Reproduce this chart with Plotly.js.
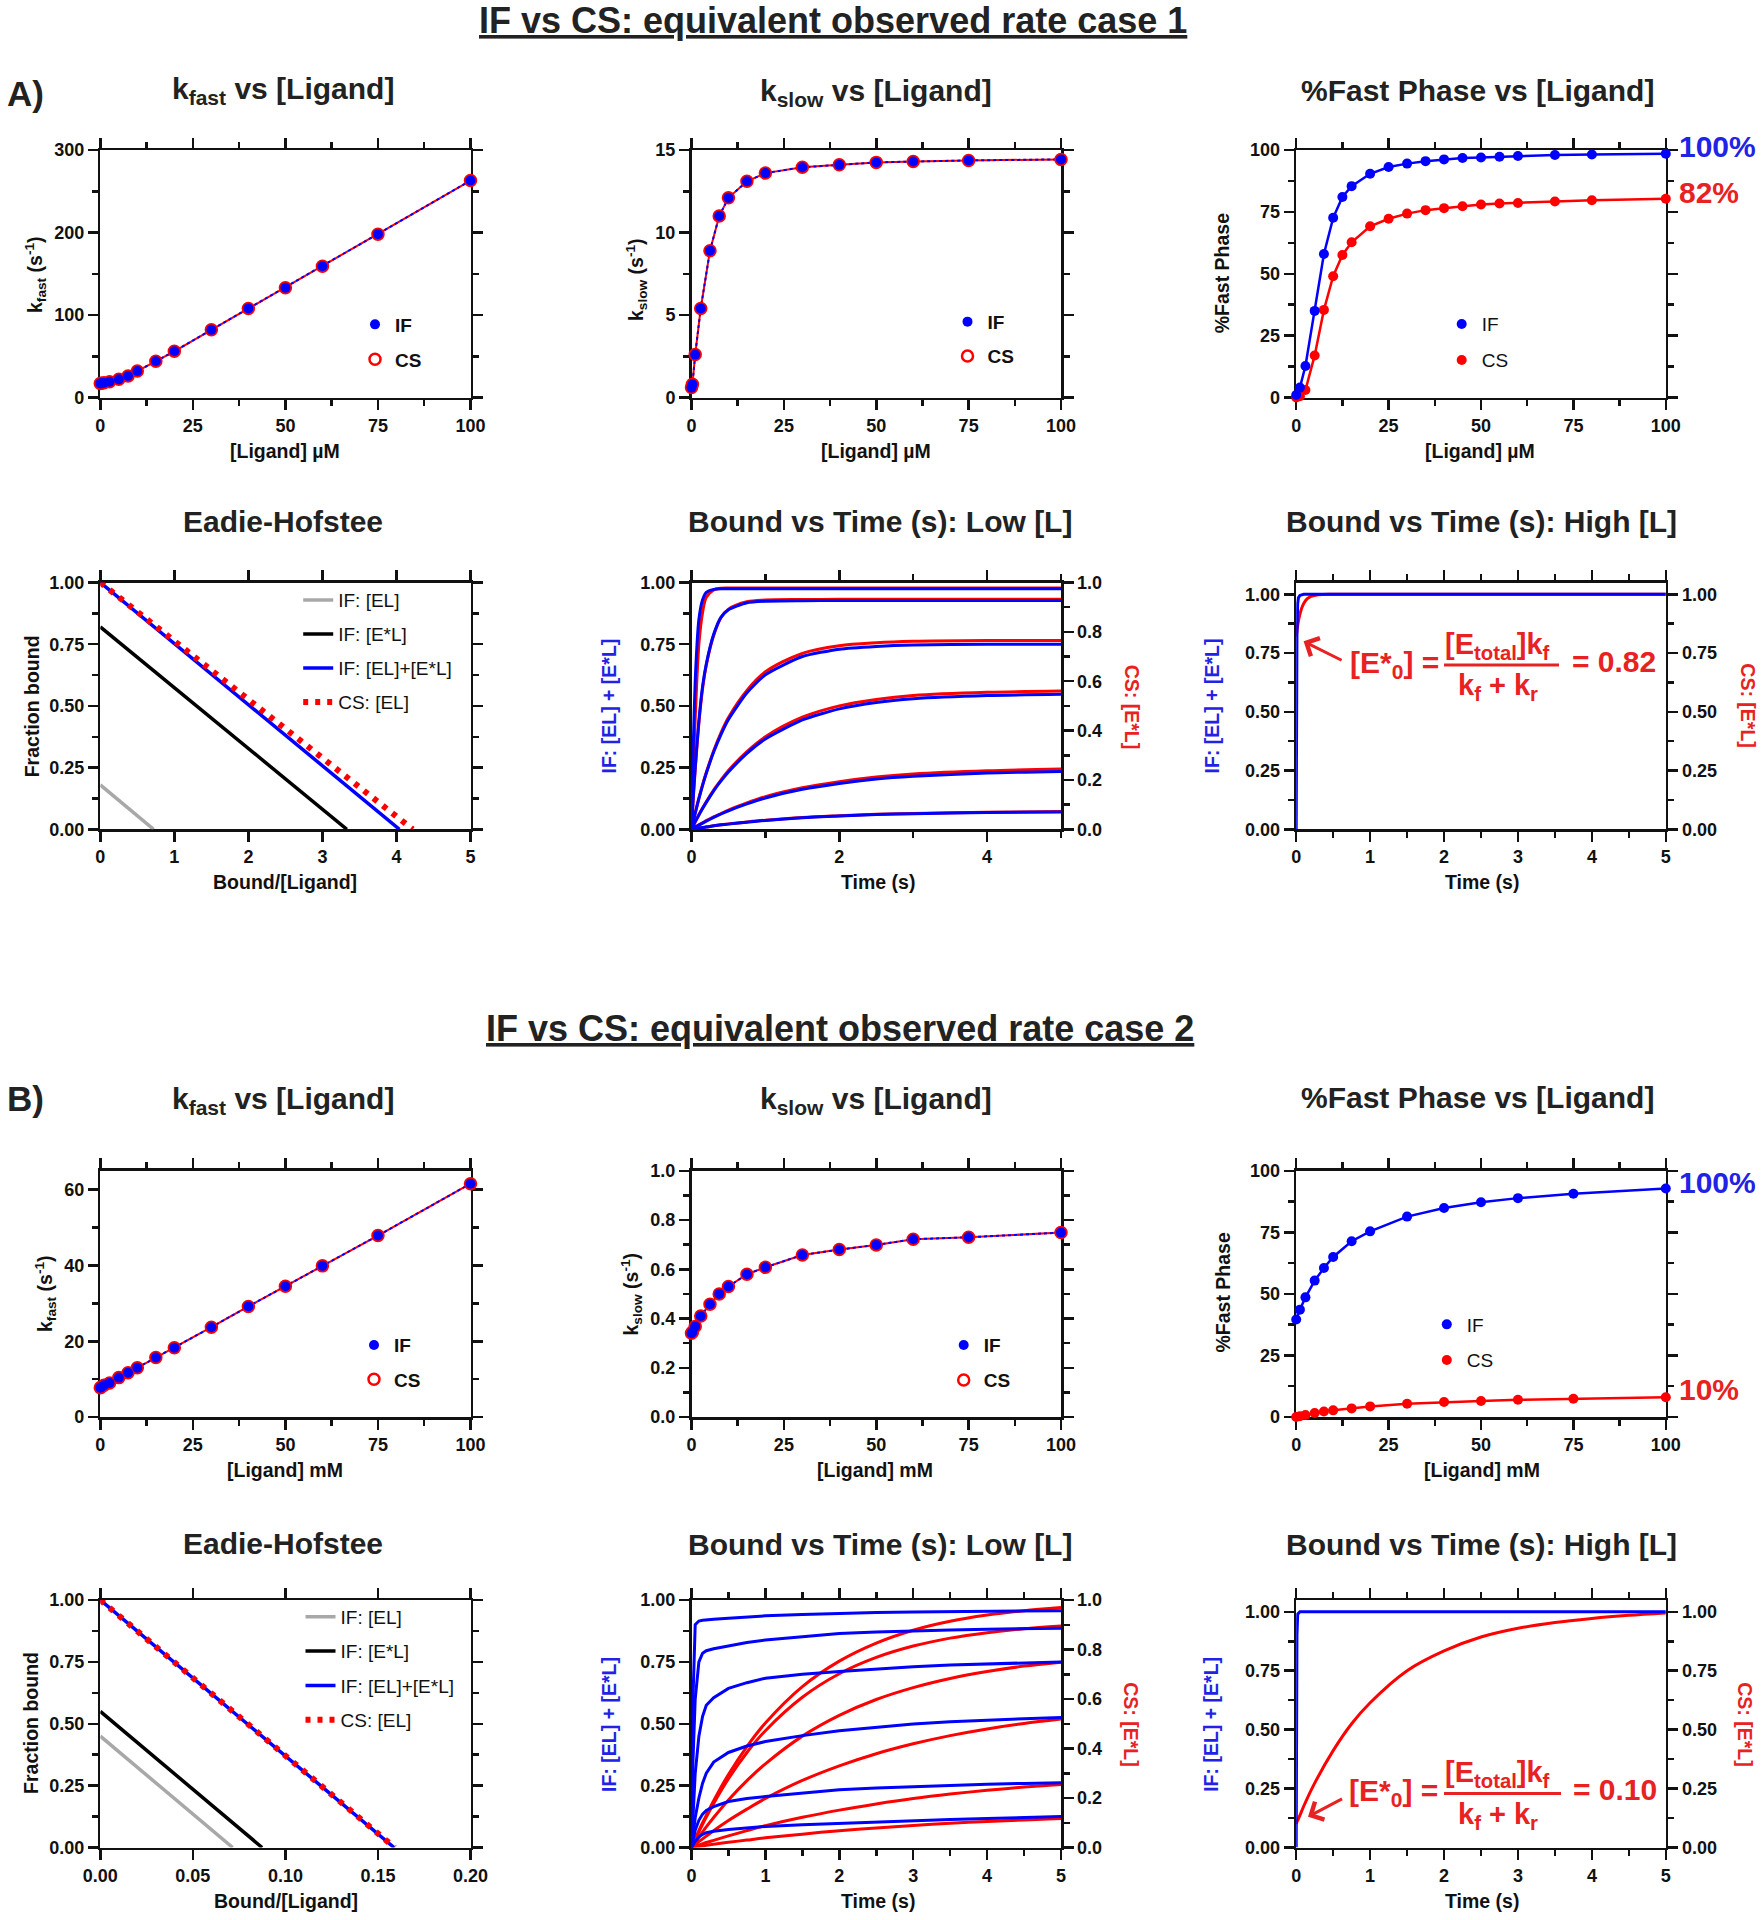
<!DOCTYPE html>
<html>
<head>
<meta charset="utf-8">
<script src="https://cdn.plot.ly/plotly-3.0.1.min.js"></script>
<style>
html, body { margin: 0; padding: 0; background: #ffffff; }
#chart { width: 1763px; height: 1920px; }
</style>
</head>
<body>
<div id="chart"></div>
<script>
// ================= DATA =================
const seriesNames = ['IF', 'CS'];
const ehNames = ['IF: [EL]', 'IF: [E*L]', 'IF: [EL]+[E*L]', 'CS: [EL]'];

// ---- Case 1 (A), ligand in µM ----
const ligandA = [0, 0.25, 1, 2.5, 5, 7.5, 10, 15, 20, 30, 40, 50, 60, 75, 100];
const kfastA_IF = [17, 17.2, 17.8, 19, 22, 26, 32, 44, 56, 82, 108, 133, 159, 198, 263];
const kfastA_CS = [17, 17.2, 17.8, 19, 22, 26, 32, 44, 56, 82, 108, 133, 159, 198, 263];
const kslowA_IF = [0.6, 0.8, 2.6, 5.4, 8.9, 11.0, 12.1, 13.1, 13.6, 13.95, 14.1, 14.25, 14.3, 14.37, 14.43];
const kslowA_CS = [0.6, 0.8, 2.6, 5.4, 8.9, 11.0, 12.1, 13.1, 13.6, 13.95, 14.1, 14.25, 14.3, 14.37, 14.43];
const ligandPctA = [0, 1, 2.5, 5, 7.5, 10, 12.5, 15, 20, 25, 30, 35, 40, 45, 50, 55, 60, 70, 80, 100];
const pctFastA_IF = [1, 4, 12.7, 35, 58, 72.6, 81, 85.4, 90.4, 93.1, 94.5, 95.5, 96.2, 96.8, 97, 97.3, 97.6, 98, 98.2, 98.5];
const pctFastA_CS = [0, 0.5, 3, 17, 35.4, 49, 57.6, 62.7, 69.2, 72.2, 74.3, 75.7, 76.5, 77.3, 78, 78.4, 78.6, 79.2, 79.7, 80.3];
// Eadie-Hofstee end points: [Bound/[Ligand]], [Fraction bound]
const ehA_x = [[0, 0.72], [0, 3.33], [0, 4.04], [0, 4.22]];
const ehA_y = [[0.18, 0], [0.82, 0], [1, 0], [1, 0]];
// Bound vs time, low [L]
const timeLowA = [0, 0.025, 0.05, 0.1, 0.15, 0.2, 0.3, 0.4, 0.5, 0.75, 1, 1.5, 2, 2.5, 3, 4, 5];
const lowA_IF = [
  [0, 0.35, 0.60, 0.85, 0.93, 0.96, 0.972, 0.975, 0.975, 0.975, 0.975, 0.975, 0.975, 0.975, 0.975, 0.975, 0.975],
  [0, 0.14, 0.25, 0.44, 0.58, 0.67, 0.79, 0.86, 0.89, 0.918, 0.924, 0.926, 0.927, 0.927, 0.927, 0.927, 0.927],
  [0, 0.033, 0.065, 0.124, 0.178, 0.227, 0.313, 0.385, 0.445, 0.553, 0.626, 0.700, 0.730, 0.741, 0.747, 0.750, 0.750],
  [0, 0.015, 0.030, 0.058, 0.084, 0.109, 0.156, 0.196, 0.232, 0.308, 0.366, 0.443, 0.488, 0.514, 0.529, 0.542, 0.547],
  [0, 0.004, 0.009, 0.017, 0.025, 0.033, 0.048, 0.062, 0.075, 0.103, 0.127, 0.162, 0.186, 0.204, 0.215, 0.228, 0.234],
  [0, 0.001, 0.003, 0.005, 0.007, 0.009, 0.014, 0.018, 0.021, 0.029, 0.036, 0.047, 0.054, 0.060, 0.063, 0.068, 0.070]
];
const lowA_CS = [
  [0, 0.25, 0.45, 0.75, 0.88, 0.94, 0.97, 0.977, 0.978, 0.978, 0.978, 0.978, 0.978, 0.978, 0.978, 0.978, 0.978],
  [0, 0.13, 0.24, 0.43, 0.57, 0.665, 0.785, 0.858, 0.892, 0.922, 0.929, 0.931, 0.932, 0.932, 0.932, 0.932, 0.932],
  [0, 0.034, 0.066, 0.126, 0.181, 0.230, 0.318, 0.392, 0.453, 0.563, 0.638, 0.713, 0.744, 0.756, 0.762, 0.765, 0.765],
  [0, 0.015, 0.030, 0.059, 0.086, 0.112, 0.159, 0.200, 0.238, 0.315, 0.375, 0.454, 0.500, 0.526, 0.542, 0.555, 0.560],
  [0, 0.005, 0.009, 0.018, 0.026, 0.035, 0.050, 0.064, 0.078, 0.107, 0.132, 0.168, 0.193, 0.212, 0.224, 0.237, 0.244],
  [0, 0.001, 0.003, 0.005, 0.007, 0.010, 0.014, 0.018, 0.022, 0.030, 0.037, 0.048, 0.055, 0.061, 0.064, 0.069, 0.072]
];
// Bound vs time, high [L]
const timeHighA = [0, 0.005, 0.01, 0.02, 0.03, 0.05, 0.075, 0.1, 0.15, 0.2, 0.3, 0.5, 1, 2, 5];
const highA_IF = [0, 0.55, 0.82, 0.96, 0.985, 0.995, 0.998, 1, 1, 1, 1, 1, 1, 1, 1];
const highA_CS = [0.82, 0.833, 0.845, 0.867, 0.885, 0.915, 0.942, 0.96, 0.981, 0.991, 0.998, 1, 1, 1, 1];

// ---- Case 2 (B), ligand in mM ----
const ligandB = [0, 0.25, 1, 2.5, 5, 7.5, 10, 15, 20, 30, 40, 50, 60, 75, 100];
const kfastB_IF = [7.7, 7.9, 8.4, 9.0, 10.4, 11.7, 13.0, 15.7, 18.3, 23.7, 29.2, 34.5, 39.9, 47.9, 61.6];
const kfastB_CS = [7.7, 7.9, 8.4, 9.0, 10.4, 11.7, 13.0, 15.7, 18.3, 23.7, 29.2, 34.5, 39.9, 47.9, 61.6];
const kslowB_IF = [0.34, 0.345, 0.368, 0.41, 0.458, 0.50, 0.53, 0.58, 0.608, 0.658, 0.68, 0.699, 0.722, 0.73, 0.749];
const kslowB_CS = [0.34, 0.345, 0.368, 0.41, 0.458, 0.50, 0.53, 0.58, 0.608, 0.658, 0.68, 0.699, 0.722, 0.73, 0.749];
const ligandPctB = [0, 1, 2.5, 5, 7.5, 10, 15, 20, 30, 40, 50, 60, 75, 100];
const pctFastB_IF = [39.6, 43.6, 48.6, 55.4, 60.5, 65, 71.4, 75.4, 81.4, 84.9, 87.2, 88.9, 90.7, 92.8];
const pctFastB_CS = [0, 0.3, 0.8, 1.6, 2.2, 2.7, 3.5, 4.3, 5.4, 6.1, 6.5, 7.0, 7.4, 8.0];
const ehB_x = [[0, 0.0715], [0, 0.0874], [0, 0.1587], [0, 0.159]];
const ehB_y = [[0.45, 0], [0.55, 0], [1, 0], [1, 0]];
const timeLowB = [0, 0.02, 0.05, 0.1, 0.15, 0.2, 0.3, 0.5, 0.75, 1, 1.5, 2, 2.5, 3, 3.5, 4, 4.5, 5];
const lowB_IF = [
  [0, 0.60, 0.90, 0.915, 0.918, 0.920, 0.922, 0.926, 0.931, 0.936, 0.941, 0.946, 0.949, 0.952, 0.954, 0.955, 0.956, 0.957],
  [0, 0.35, 0.60, 0.75, 0.785, 0.795, 0.803, 0.815, 0.828, 0.838, 0.853, 0.865, 0.871, 0.876, 0.879, 0.882, 0.884, 0.886],
  [0, 0.15, 0.30, 0.45, 0.53, 0.575, 0.605, 0.643, 0.666, 0.684, 0.700, 0.711, 0.722, 0.730, 0.737, 0.742, 0.746, 0.750],
  [0, 0.05, 0.12, 0.20, 0.26, 0.30, 0.345, 0.384, 0.410, 0.428, 0.452, 0.472, 0.487, 0.499, 0.508, 0.515, 0.520, 0.525],
  [0, 0.03, 0.07, 0.11, 0.135, 0.15, 0.165, 0.186, 0.198, 0.206, 0.220, 0.233, 0.240, 0.246, 0.251, 0.256, 0.259, 0.262],
  [0, 0.010, 0.025, 0.042, 0.053, 0.060, 0.066, 0.073, 0.080, 0.085, 0.092, 0.098, 0.104, 0.109, 0.113, 0.117, 0.121, 0.125]
];
const lowB_CS = [
  [0, 0.014, 0.034, 0.068, 0.100, 0.130, 0.189, 0.295, 0.408, 0.503, 0.650, 0.753, 0.826, 0.878, 0.914, 0.939, 0.957, 0.970],
  [0, 0.013, 0.033, 0.064, 0.094, 0.123, 0.178, 0.278, 0.384, 0.472, 0.607, 0.702, 0.768, 0.814, 0.846, 0.868, 0.884, 0.895],
  [0, 0.009, 0.022, 0.043, 0.063, 0.083, 0.121, 0.192, 0.270, 0.338, 0.450, 0.534, 0.598, 0.646, 0.683, 0.711, 0.733, 0.749],
  [0, 0.005, 0.012, 0.024, 0.035, 0.046, 0.068, 0.109, 0.155, 0.198, 0.271, 0.330, 0.379, 0.419, 0.452, 0.479, 0.501, 0.519],
  [0, 0.002, 0.005, 0.010, 0.015, 0.020, 0.029, 0.047, 0.068, 0.088, 0.122, 0.151, 0.176, 0.198, 0.216, 0.231, 0.244, 0.255],
  [0, 0.001, 0.002, 0.004, 0.007, 0.009, 0.013, 0.021, 0.030, 0.039, 0.054, 0.068, 0.079, 0.089, 0.098, 0.105, 0.111, 0.117]
];
const timeHighB = [0, 0.005, 0.01, 0.02, 0.05, 0.1, 0.25, 0.5, 0.75, 1, 1.5, 2, 2.5, 3, 3.5, 4, 4.5, 5];
const highB_IF = [0, 0.6, 0.9, 0.99, 1, 1, 1, 1, 1, 1, 1, 1, 1, 1, 1, 1, 1, 1];
const highB_CS = [0.10, 0.104, 0.108, 0.115, 0.136, 0.174, 0.273, 0.411, 0.525, 0.614, 0.750, 0.834, 0.893, 0.930, 0.955, 0.972, 0.985, 0.995];

// ================= STYLE / LAYOUT =================
const W = 1763, H = 1920;
const F = 'Liberation Sans, Arial, Helvetica, sans-serif';
const BLUE = '#0000ff', RED = '#ff0000', GRAY = '#a8a8a8', BLACK = '#000000';
const TBLUE = '#2222e6', TRED = '#e82222', DARK = '#222222', AXC = '#111111';
const px = v => v / W, py = v => 1 - v / H;
const domX = c => [c[0] / W, c[1] / W];
const domY = r => [1 - r[1] / H, 1 - r[0] / H];
const COLS = [[100.3, 470.5], [691.5, 1061], [1296.2, 1665.8]];
const ROWS = [[150, 397.5], [582.5, 829.3], [1170.8, 1417], [1600, 1847.5]];
const sx = i => (i > 1 ? String(i) : '');

const traces = [];
function ref(i, yid) { return { xaxis: 'x' + sx(i), yaxis: yid || ('y' + sx(i)) }; }

function ratePanel(i, xs, yIF, yCS, leg, grp) {
  traces.push(Object.assign({ type: 'scatter', x: xs, y: yCS, mode: 'lines', line: { color: RED, width: 2 }, showlegend: false, hoverinfo: 'skip' }, ref(i)));
  traces.push(Object.assign({ type: 'scatter', x: xs, y: yIF, mode: 'lines', line: { color: BLUE, width: 2, dash: 'dot' }, showlegend: false, hoverinfo: 'skip' }, ref(i)));
  traces.push(Object.assign({ type: 'scatter', x: xs, y: yCS, mode: 'markers', name: seriesNames[1], legend: leg, legendgroup: grp + 'cs', legendrank: 2,
    marker: { symbol: 'circle-open', size: 11, color: RED, line: { color: RED, width: 2.5 } }, cliponaxis: false }, ref(i)));
  traces.push(Object.assign({ type: 'scatter', x: xs, y: yIF, mode: 'markers', name: seriesNames[0], legend: leg, legendgroup: grp + 'if', legendrank: 1,
    marker: { symbol: 'circle', size: 10, color: BLUE }, cliponaxis: false }, ref(i)));
}
function pctPanel(i, xs, yIF, yCS, leg, grp) {
  traces.push(Object.assign({ type: 'scatter', x: xs, y: yCS, mode: 'lines', line: { color: RED, width: 2.5 }, showlegend: false, hoverinfo: 'skip', cliponaxis: false }, ref(i)));
  traces.push(Object.assign({ type: 'scatter', x: xs, y: yCS, mode: 'markers', name: seriesNames[1], legend: leg, legendgroup: grp + 'cs', legendrank: 2,
    marker: { symbol: 'circle', size: 10, color: RED }, cliponaxis: false }, ref(i)));
  traces.push(Object.assign({ type: 'scatter', x: xs, y: yIF, mode: 'lines', line: { color: BLUE, width: 2.5 }, showlegend: false, hoverinfo: 'skip', cliponaxis: false }, ref(i)));
  traces.push(Object.assign({ type: 'scatter', x: xs, y: yIF, mode: 'markers', name: seriesNames[0], legend: leg, legendgroup: grp + 'if', legendrank: 1,
    marker: { symbol: 'circle', size: 10, color: BLUE }, cliponaxis: false }, ref(i)));
}
function ehPanel(i, xs, ys, leg, grp) {
  const styles = [
    { color: GRAY, width: 3.5 }, { color: BLACK, width: 3.5 }, { color: BLUE, width: 3.5 }, { color: RED, width: 6, dash: '5px,7px' }
  ];
  xs.forEach((x, k) => traces.push(Object.assign({ type: 'scatter', x: x, y: ys[k], mode: 'lines', name: ehNames[k], legend: leg,
    legendgroup: grp + k, legendrank: k + 1, line: styles[k], cliponaxis: false }, ref(i))));
}
function timePanel(i, leftId, t, ifCurves, csCurves, ifShape, csShape) {
  csCurves.forEach(c => traces.push(Object.assign({ type: 'scatter', x: t, y: c, mode: 'lines', showlegend: false, hoverinfo: 'skip',
    line: { color: RED, width: 3, shape: csShape, smoothing: 0.9 } }, ref(i))));
  ifCurves.forEach(c => traces.push(Object.assign({ type: 'scatter', x: t, y: c, mode: 'lines', showlegend: false, hoverinfo: 'skip',
    line: { color: BLUE, width: 3, shape: ifShape, smoothing: 0.6 } }, ref(i, leftId))));
}

ratePanel(1, ligandA, kfastA_IF, kfastA_CS, 'legend', 'a1');
ratePanel(2, ligandA, kslowA_IF, kslowA_CS, 'legend2', 'a2');
pctPanel(3, ligandPctA, pctFastA_IF, pctFastA_CS, 'legend3', 'a3');
ehPanel(4, ehA_x, ehA_y, 'legend4', 'a4');
timePanel(5, 'y13', timeLowA, lowA_IF, lowA_CS, 'spline', 'spline');
timePanel(6, 'y14', timeHighA, [highA_IF], [highA_CS], 'linear', 'spline');
ratePanel(7, ligandB, kfastB_IF, kfastB_CS, 'legend5', 'b1');
ratePanel(8, ligandB, kslowB_IF, kslowB_CS, 'legend6', 'b2');
pctPanel(9, ligandPctB, pctFastB_IF, pctFastB_CS, 'legend7', 'b3');
ehPanel(10, ehB_x, ehB_y, 'legend8', 'b4');
timePanel(11, 'y15', timeLowB, lowB_IF, lowB_CS, 'linear', 'spline');
timePanel(12, 'y16', timeHighB, [highB_IF], [highB_CS], 'linear', 'spline');

// axis specs per panel
const panelSpec = [
  { x: [0, 100], xd: 25, xm: 12.5, y: [0, 300], yd: 100, ym: 50 },
  { x: [0, 100], xd: 25, xm: 12.5, y: [0, 15], yd: 5, ym: 2.5 },
  { x: [0, 100], xd: 25, xm: 12.5, y: [0, 100], yd: 25, ym: 12.5 },
  { x: [0, 5], xd: 1, xm: null, y: [0, 1], yd: 0.25, ym: 0.125, yf: '.2f' },
  { x: [0, 5], xd: 2, xm: 1, y: [0, 1], yd: 0.25, ym: 0.125, yf: '.2f', left: 13, right: { r: [0, 1], d: 0.2, m: 0.1, f: '.1f' } },
  { x: [0, 5], xd: 1, xm: 0.5, y: [0, 1.05], yd: 0.25, ym: 0.125, yf: '.2f', left: 14, right: { r: [0, 1.05], d: 0.25, m: 0.125, f: '.2f' } },
  { x: [0, 100], xd: 25, xm: 12.5, y: [0, 65], yd: 20, ym: 10 },
  { x: [0, 100], xd: 25, xm: 12.5, y: [0, 1], yd: 0.2, ym: 0.1, yf: '.1f' },
  { x: [0, 100], xd: 25, xm: 12.5, y: [0, 100], yd: 25, ym: 12.5 },
  { x: [0, 0.2], xd: 0.05, xm: null, xf: '.2f', y: [0, 1], yd: 0.25, ym: 0.125, yf: '.2f' },
  { x: [0, 5], xd: 1, xm: 0.5, y: [0, 1], yd: 0.25, ym: 0.125, yf: '.2f', left: 15, right: { r: [0, 1], d: 0.2, m: 0.1, f: '.1f' } },
  { x: [0, 5], xd: 1, xm: 0.5, y: [0, 1.05], yd: 0.25, ym: 0.125, yf: '.2f', left: 16, right: { r: [0, 1.05], d: 0.25, m: 0.125, f: '.2f' } }
];
function axis(o) {
  const a = {
    range: o.range, tickmode: 'linear', tick0: 0, dtick: o.dtick,
    showline: true, linecolor: AXC, linewidth: 2.5, mirror: o.mirror,
    ticks: 'outside', ticklen: 10, tickwidth: 2.5, tickcolor: AXC,
    showgrid: false, zeroline: false, fixedrange: true, layer: 'below traces',
    tickfont: { family: F, size: 18, color: AXC, weight: 'bold' },
    anchor: o.anchor
  };
  if (o.fmt) a.tickformat = o.fmt;
  if (o.domain) a.domain = o.domain;
  if (o.side) a.side = o.side;
  if (o.overlaying) a.overlaying = o.overlaying;
  if (o.minorD) a.minor = { dtick: o.minorD, tick0: 0, ticks: 'outside', ticklen: 6, tickwidth: 2.5, tickcolor: AXC, showgrid: false };
  return a;
}
const layout = {
  width: W, height: H, margin: { l: 0, r: 0, t: 0, b: 0 },
  paper_bgcolor: '#ffffff', plot_bgcolor: '#ffffff',
  showlegend: true, hovermode: false, font: { family: F, color: AXC }
};
panelSpec.forEach((p, k) => {
  const i = k + 1, s = sx(i);
  const col = COLS[k % 3], row = ROWS[Math.floor(k / 3)];
  layout['xaxis' + s] = axis({ domain: domX(col), range: p.x, dtick: p.xd, minorD: p.xm, fmt: p.xf, anchor: 'y' + s, mirror: 'ticks' });
  if (p.right) {
    layout['yaxis' + s] = axis({ domain: domY(row), range: p.right.r, dtick: p.right.d, minorD: p.right.m, fmt: p.right.f, anchor: 'x' + s, side: 'right', mirror: false });
    layout['yaxis' + p.left] = axis({ range: p.y, dtick: p.yd, minorD: p.ym, fmt: p.yf, anchor: 'x' + s, side: 'left', overlaying: 'y' + s, mirror: false });
  } else {
    layout['yaxis' + s] = axis({ domain: domY(row), range: p.y, dtick: p.yd, minorD: p.ym, fmt: p.yf, anchor: 'x' + s, mirror: 'ticks' });
  }
});

// legends
function leg(left, top, bold, gap) {
  return { x: px(left), y: py(top), xanchor: 'left', yanchor: 'top', bgcolor: 'rgba(0,0,0,0)', borderwidth: 0,
    font: { family: F, size: 19, color: AXC, weight: bold ? 'bold' : 'normal' }, traceorder: 'grouped', tracegroupgap: gap,
    itemwidth: 30, itemclick: false, itemdoubleclick: false };
}
layout.legend = leg(355, 305.5, true, 7.3);
layout.legend2 = leg(947.5, 302.8, true, 6.6);
layout.legend3 = leg(1441.7, 305.2, false, 8.3);
layout.legend4 = leg(298.2, 581.2, false, 6.3);
layout.legend5 = leg(354, 1326.2, true, 6.6);
layout.legend6 = leg(943.7, 1326.2, true, 7.3);
layout.legend7 = leg(1426.8, 1305.5, false, 8.0);
layout.legend8 = leg(300.5, 1597.8, false, 6.7);

// text annotations
const A = [];
function txt(text, x, y, size, color, extra) {
  A.push(Object.assign({ text: text, xref: 'paper', yref: 'paper', x: px(x), y: py(y), showarrow: false,
    xanchor: 'center', yanchor: 'middle', font: { family: F, size: size, color: color || AXC, weight: 'bold' } }, extra || {}));
}
// main titles and panel labels
txt('<u>IF vs CS: equivalent observed rate case 1</u>', 833, 20.4, 36, DARK);
txt('<u>IF vs CS: equivalent observed rate case 2</u>', 840, 1028, 36, DARK);
txt('A)', 5, 94, 35, DARK, { xanchor: 'left' });
txt('B)', 5, 1098, 35, DARK, { xanchor: 'left' });
// subplot titles
const subTitles = ['k<sub>fast</sub> vs [Ligand]', 'k<sub>slow</sub> vs [Ligand]', '%Fast Phase vs [Ligand]',
  'Eadie-Hofstee', 'Bound vs Time (s): Low [L]', 'Bound vs Time (s): High [L]'];
const subTitleX = [283, 875.6, 1477, 283, 879.6, 1481];
const subTitleY = [[91, 92, 90, 521, 521, 521.5], [1100.5, 1100.5, 1097, 1543, 1544, 1544]];
[0, 1].forEach(c => subTitles.forEach((t, k) => txt(t, subTitleX[k], subTitleY[c][k], 30, DARK)));
// x axis titles
const xTitlesA = ['[Ligand] µM', '[Ligand] µM', '[Ligand] µM', 'Bound/[Ligand]', 'Time (s)', 'Time (s)'];
const xTitlesB = ['[Ligand] mM', '[Ligand] mM', '[Ligand] mM', 'Bound/[Ligand]', 'Time (s)', 'Time (s)'];
const xTitleX = [[285, 876, 1480, 285, 877.7, 1482], [285, 874.5, 1482, 286, 877.7, 1482]];
const xTitleY = [451, 451, 451, 881.5, 881.5, 881.5, 1469.5, 1469.5, 1469.5, 1900.5, 1900.5, 1900.5];
xTitlesA.forEach((t, k) => txt(t, xTitleX[0][k], xTitleY[k], 19.5, AXC));
xTitlesB.forEach((t, k) => txt(t, xTitleX[1][k], xTitleY[k + 6], 19.5, AXC));
// y axis titles
const yT = { textangle: -90 };
txt('k<sub>fast</sub> (s<sup>-1</sup>)', 36, 275, 19.5, AXC, yT);
txt('k<sub>slow</sub> (s<sup>-1</sup>)', 636, 280, 19.5, AXC, yT);
txt('%Fast Phase', 1222, 273.3, 19.5, AXC, yT);
txt('Fraction bound', 31.6, 706.7, 19.5, AXC, yT);
txt('IF: [EL] + [E*L]', 608.7, 705.8, 19.5, TBLUE, yT);
txt('IF: [EL] + [E*L]', 1211.6, 705.8, 19.5, TBLUE, yT);
txt('CS: [E*L]', 1132, 706.7, 19.5, TRED, { textangle: 90 });
txt('CS: [E*L]', 1748.5, 705.8, 19.5, TRED, { textangle: 90 });
txt('k<sub>fast</sub> (s<sup>-1</sup>)', 45, 1294, 19.5, AXC, yT);
txt('k<sub>slow</sub> (s<sup>-1</sup>)', 630.5, 1294, 19.5, AXC, yT);
txt('%Fast Phase', 1222, 1292.5, 19.5, AXC, yT);
txt('Fraction bound', 31.6, 1723.3, 19.5, AXC, yT);
txt('IF: [EL] + [E*L]', 608.7, 1724.2, 19.5, TBLUE, yT);
txt('IF: [EL] + [E*L]', 1211.6, 1724.2, 19.5, TBLUE, yT);
txt('CS: [E*L]', 1131, 1724.2, 19.5, TRED, { textangle: 90 });
txt('CS: [E*L]', 1745, 1724.2, 19.5, TRED, { textangle: 90 });
// plateau labels
txt('100%', 1677, 146, 30, TBLUE, { xanchor: 'left' });
txt('82%', 1677, 192.5, 30, TRED, { xanchor: 'left' });
txt('100%', 1677, 1182.5, 30, TBLUE, { xanchor: 'left' });
txt('10%', 1677, 1389, 30, TRED, { xanchor: 'left' });
// formula (E*0 = [Etotal]kf / (kf + kr))
txt('[E*<sub>0</sub>] =', 1394, 664.5, 30, TRED);
txt('[E<sub>total</sub>]k<sub>f</sub>', 1497, 646, 29, TRED);
txt('k<sub>f</sub> + k<sub>r</sub>', 1498, 687, 29, TRED);
txt('= 0.82', 1614, 661, 30, TRED);
txt('[E*<sub>0</sub>] =', 1393, 1792, 30, TRED);
txt('[E<sub>total</sub>]k<sub>f</sub>', 1497, 1773.5, 29, TRED);
txt('k<sub>f</sub> + k<sub>r</sub>', 1498, 1815.5, 29, TRED);
txt('= 0.10', 1615, 1789, 30, TRED);
// arrows pointing at the CS curve start
A.push({ text: ' ', xref: 'x6', yref: 'y6', x: 0.1, y: 0.80, ax: 40, ay: 20, showarrow: true, arrowhead: 4, arrowsize: 1.3,
  arrowwidth: 3, arrowcolor: TRED, standoff: 0, font: { size: 4 } });
A.push({ text: ' ', xref: 'x12', yref: 'y12', x: 0.16, y: 0.13, ax: 36, ay: -19, showarrow: true, arrowhead: 4, arrowsize: 1.3,
  arrowwidth: 3, arrowcolor: TRED, standoff: 0, font: { size: 4 } });
layout.annotations = A;
layout.shapes = [
  { type: 'line', xref: 'paper', yref: 'paper', x0: px(1444), x1: px(1559), y0: py(665), y1: py(665), line: { color: TRED, width: 3 } },
  { type: 'line', xref: 'paper', yref: 'paper', x0: px(1444), x1: px(1561), y0: py(1793.5), y1: py(1793.5), line: { color: TRED, width: 3 } }
];

Plotly.newPlot('chart', traces, layout, { staticPlot: true, displayModeBar: false });
</script>
</body>
</html>
